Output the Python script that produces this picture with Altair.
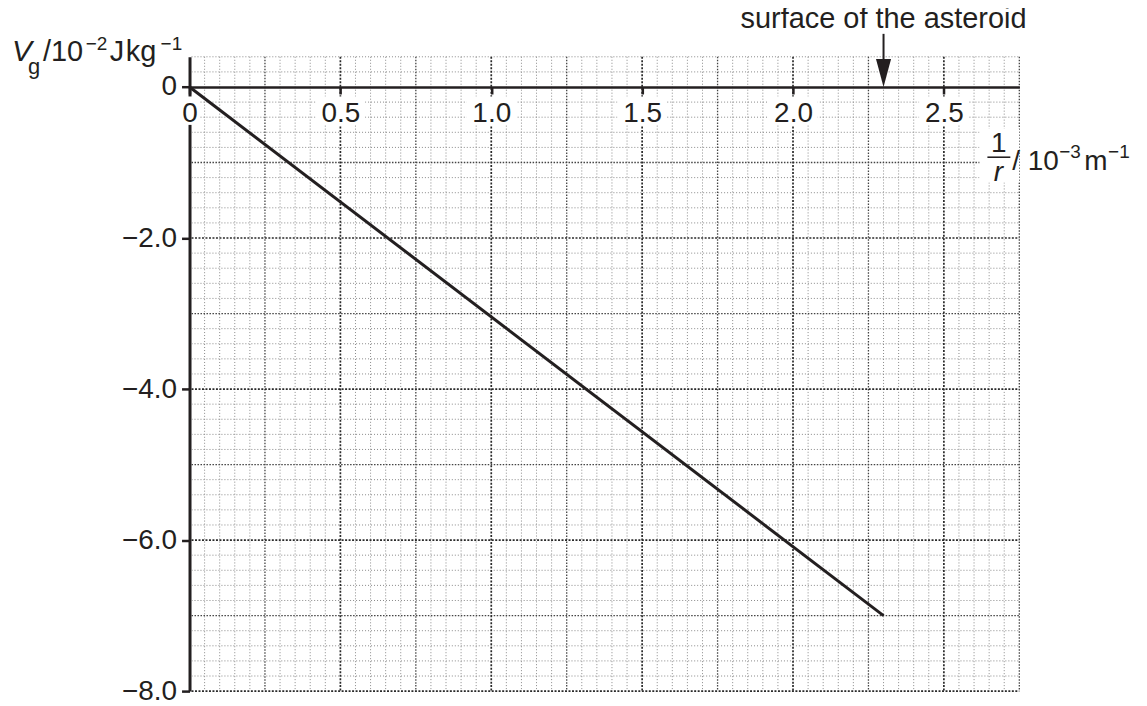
import altair as alt
import pandas as pd

FONT = "Liberation Sans"
INK = "#231f20"

# ---- data ----
X_LABEL_VALUES = [0.0, 0.5, 1.0, 1.5, 2.0, 2.5]
Y_LABEL_VALUES = [-8.0, -6.0, -4.0, -2.0, 0.0]
LINE_X = [0.0, 2.3]
LINE_Y = [0.0, -7.0]
SURFACE_X = [2.3]
SURFACE_Y = [0.0]
X_MIN, X_MAX = 0.0, 2.75
Y_MIN, Y_MAX = -8.0, 0.4

W, H = 832, 636
ZERO_PX = H * (Y_MAX - 0) / (Y_MAX - Y_MIN)   # pixel row of y = 0
TICK = 7
LPAD = 6

# graph-paper grid positions (0.05 in x, 0.2 in y)
gx = [round(i * 0.05, 2) for i in range(1, 56)]
gx_level = ["major" if i % 10 == 0 else ("medium" if i % 5 == 0 else "minor") for i in range(1, 56)]
gy = [round(-8.0 + i * 0.2, 1) for i in range(0, 43) if i != 40]
gy_level = ["major" if i % 10 == 0 else ("medium" if i % 5 == 0 else "minor") for i in range(0, 43) if i != 40]

gxdf = pd.DataFrame({"v": gx, "lvl": gx_level})
gydf = pd.DataFrame({"v": gy, "lvl": gy_level})
line_df = pd.DataFrame({"x": LINE_X, "y": LINE_Y})
surf_df = pd.DataFrame({"x": SURFACE_X, "y": SURFACE_Y})
xlab_df = pd.DataFrame({"v": X_LABEL_VALUES})
dummy = pd.DataFrame({"a": [0]})

x_scale = alt.Scale(domain=[X_MIN, X_MAX], nice=False, zero=False)
y_scale = alt.Scale(domain=[Y_MIN, Y_MAX], nice=False, zero=False)

label_expr = "datum.value == 0 ? '0' : format(datum.value, '.1f')"
x_axis = alt.Axis(
    values=X_LABEL_VALUES, orient="bottom", offset=-(H - ZERO_PX),
    grid=False, domainColor=INK, domainWidth=2.5, tickColor=INK, tickWidth=2.5,
    tickSize=TICK, labelFont=FONT, labelFontSize=28, labelColor=INK, labelPadding=LPAD,
    labelFlush=False, labelOverlap=False, labelExpr=label_expr, title=None, zindex=1,
)
y_axis = alt.Axis(
    values=Y_LABEL_VALUES, orient="left", grid=False, domainColor=INK, domainWidth=3,
    tickColor=INK, tickWidth=2.5, tickSize=8, labelFont=FONT, labelFontSize=28,
    labelColor=INK, labelPadding=5, labelFlush=False, labelOverlap=False,
    labelExpr=label_expr, title=None, zindex=0,
)


def X(field):
    return alt.X(field, scale=x_scale, axis=x_axis)


def Y(field):
    return alt.Y(field, scale=y_scale, axis=y_axis)


STYLES = {
    "minor": dict(color="#8a8a8a", strokeDash=[1, 2], strokeWidth=1),
    "medium": dict(color="#444444", strokeDash=[1.5, 1.5], strokeWidth=1.3),
    "major": dict(color="#2a2a2a", strokeDash=[2, 1.5], strokeWidth=1.7),
}

layers = []
for lvl in ["minor", "medium", "major"]:
    layers.append(
        alt.Chart(gxdf).transform_filter(alt.datum.lvl == lvl)
        .mark_rule(**STYLES[lvl])
        .encode(x=X("v:Q"))
    )
    layers.append(
        alt.Chart(gydf).transform_filter(alt.datum.lvl == lvl)
        .mark_rule(**STYLES[lvl])
        .encode(y=Y("v:Q"), x=alt.value(2), x2=alt.value(W))
    )

# white blank paper behind each x tick label
label_mask = alt.Chart(xlab_df).transform_calculate(
    half="datum.v == 0 ? 0.035 : 0.082"
).transform_calculate(
    x1="datum.v - datum.half", x2="datum.v + datum.half"
).mark_rect(color="white").encode(
    x=X("x1:Q"), x2="x2:Q",
    y=alt.value(ZERO_PX + 9.5), y2=alt.value(ZERO_PX + 38),
)

# white backing behind the x-axis title
title_mask = alt.Chart(dummy).mark_rect(color="white").encode(
    x=alt.value(792), x2=alt.value(W), y=alt.value(72), y2=alt.value(126)
)
layers += [label_mask, title_mask]

line = alt.Chart(line_df).mark_line(color=INK, strokeWidth=3).encode(
    x=X("x:Q"), y=Y("y:Q")
)
layers.append(line)

# arrow to the surface of the asteroid
shaft = alt.Chart(surf_df).mark_rule(color=INK, strokeWidth=2).encode(
    x=X("x:Q"), y=alt.value(-23), y2=alt.value(4)
)
head = alt.Chart(surf_df).mark_point(
    shape="M -0.27 -1 L 0.27 -1 L 0 0 Z", filled=True, color=INK, opacity=1, size=3136
).encode(x=X("x:Q"), y=Y("y:Q"))
surf_text = alt.Chart(surf_df).mark_text(
    text="surface of the asteroid", font=FONT, fontSize=29, color=INK,
    align="center", baseline="alphabetic",
).encode(x=X("x:Q"), y=alt.value(-29))
layers += [shaft, head, surf_text]


def txt(t, px, py, size, italic=False, align="left"):
    return alt.Chart(dummy).mark_text(
        text=t, font=FONT, fontSize=size, color=INK, align=align,
        baseline="alphabetic", fontStyle="italic" if italic else "normal",
    ).encode(x=alt.value(px), y=alt.value(py))


# y-axis title: V_g / 10^-2 J kg^-1
layers += [
    txt("V", -178, 4, 30, italic=True),
    txt("g", -162, 17.5, 22),
    txt("/10", -147, 4, 29),
    txt("\u22122", -104, -7, 19),
    txt("J", -80, 4, 29),
    txt("kg", -64, 4, 29),
    txt("\u22121", -29, -7, 19),
]
# x-axis title: 1/r / 10^-3 m^-1
frac_bar = alt.Chart(dummy).mark_rule(color=INK, strokeWidth=1.6).encode(
    x=alt.value(800), x2=alt.value(823), y=alt.value(100.7)
)
layers += [
    txt("1", 811.5, 95.7, 28, align="center"),
    frac_bar,
    txt("r", 811, 125, 28, italic=True, align="center"),
    txt("/ 10", 825, 114, 28),
    txt("\u22123", 872, 101, 19),
    txt("m", 897, 114, 28),
    txt("\u22121", 921, 101, 19),
]

chart = alt.layer(*layers).properties(
    width=W, height=H,
    autosize=alt.AutoSizeParams(type="none"),
    padding={"left": 182, "top": 48, "right": 120, "bottom": 10},
    background="white",
).configure_view(strokeWidth=0)

chart.save("out.html", embed_options={"renderer": "svg", "actions": False})
